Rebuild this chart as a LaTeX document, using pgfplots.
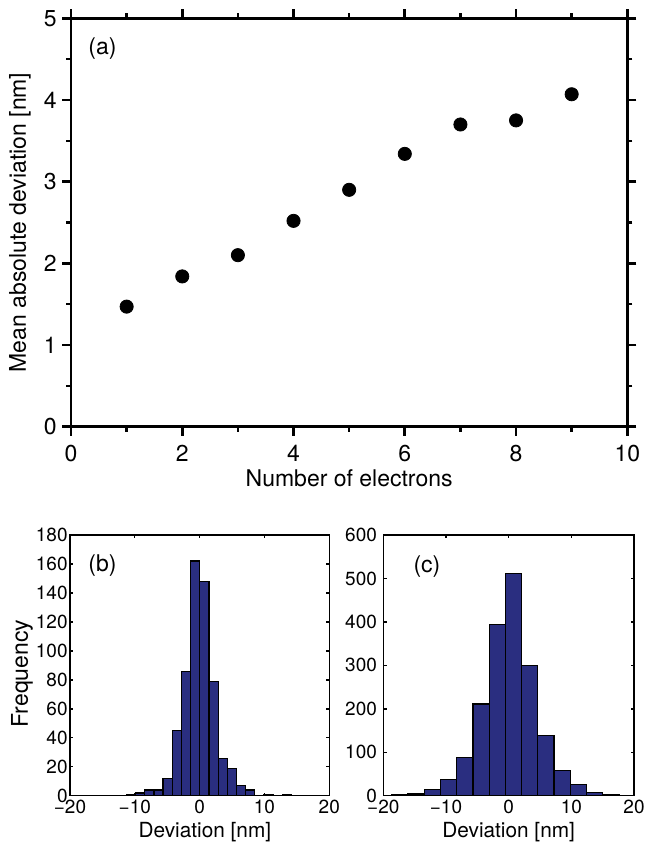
\documentclass[border=0pt]{standalone}
\usepackage{fontspec}
\setmainfont{TeX Gyre Heros}
\usepackage{pgfplots}
\pgfplotsset{compat=1.18}
\definecolor{barblue}{RGB}{42,46,128}
\newcommand{\fa}{\fontsize{11.5}{13}\selectfont}
\newcommand{\fb}{\fontsize{9.5}{11}\selectfont}
\newcommand{\fc}{\fontsize{10.4}{12}\selectfont}
\begin{document}
\begin{tikzpicture}
\useasboundingbox (0,0) rectangle (324pt,422.5pt);
% ---------------- panel (a)
\begin{axis}[
  at={(35.5pt,209.15pt)}, anchor=south west, scale only axis,
  width=278.15pt, height=204.2pt,
  xmin=0, xmax=10, ymin=0, ymax=5,
  xtick={0,2,...,10}, ytick={0,1,...,5},
  minor x tick num=1, minor y tick num=1,
  tick align=outside, major tick length=4.5pt, minor tick length=2.5pt,
  axis line style={line width=1.35pt},
  tick style={line width=1.3pt, black},
  /pgf/number format/assume math mode=true,
  tick label style={font=\fa},
  xticklabel style={inner sep=0pt, anchor=north, yshift=-4.6pt},
  yticklabel style={inner sep=0pt, anchor=east, xshift=-2.5pt},
  xlabel={Number of electrons},
  ylabel={Mean absolute deviation [nm]},
  label style={font=\fa},
  xlabel style={at={(axis description cs:0.5,-0.1476)}, anchor=base},
  ylabel style={at={(axis description cs:-0.0917,0.5)}, anchor=center},
]
\addplot[only marks, mark=*, mark size=3.3pt, black] coordinates {
  (1,1.47) (2,1.84) (3,2.10) (4,2.52) (5,2.90) (6,3.34) (7,3.70) (8,3.75) (9,4.07)
};
\node[font=\fa] at (rel axis cs:0.0566,0.927) {(a)};
\end{axis}
% ---------------- panel (b)
\begin{axis}[
  at={(35pt,24.6pt)}, anchor=south west, scale only axis,
  width=129.65pt, height=130.4pt,
  xmin=-20, xmax=20, ymin=0, ymax=180,
  xtick={-20,-10,...,20}, xticklabels={−20,−10,0,10,20},
  ytick={0,20,...,180},
  tick align=inside, major tick length=1.6pt,
  axis line style={line width=0.65pt},
  tick style={line width=0.65pt, black},
  /pgf/number format/assume math mode=true,
  tick label style={font=\fb},
  xticklabel style={inner sep=0pt, anchor=north, yshift=-2pt},
  yticklabel style={inner sep=0pt, anchor=east, xshift=-1pt},
  xlabel={Deviation [nm]}, ylabel={Frequency},
  xlabel style={font=\fc, at={(axis description cs:0.52,-0.158)}, anchor=base},
  ylabel style={font=\fa, at={(axis description cs:-0.185,0.469)}, anchor=center},
]
\addplot[ybar interval, fill=barblue, draw=black, line width=0.6pt] coordinates {
  (-11.30,1) (-9.885,2) (-8.47,4) (-7.055,4) (-5.64,12) (-4.225,45)
  (-2.81,86) (-1.395,162) (0.02,148) (1.435,79) (2.85,26) (4.265,19)
  (5.68,7) (7.095,4) (8.51,0) (9.925,1) (11.34,0) (12.755,1) (14.17,0)
};
\node[font=\fa] at (rel axis cs:0.125,0.882) {(b)};
\end{axis}
% ---------------- panel (c)
\begin{axis}[
  at={(191.65pt,24.6pt)}, anchor=south west, scale only axis,
  width=125.35pt, height=130.4pt,
  xmin=-20, xmax=20, ymin=0, ymax=600,
  xtick={-20,-10,...,20}, xticklabels={−20,−10,0,10,20},
  ytick={0,100,...,600},
  tick align=inside, major tick length=1.6pt,
  axis line style={line width=0.65pt},
  tick style={line width=0.65pt, black},
  /pgf/number format/assume math mode=true,
  tick label style={font=\fb},
  xticklabel style={inner sep=0pt, anchor=north, yshift=-2pt},
  yticklabel style={inner sep=0pt, anchor=east, xshift=-3pt},
  xlabel={Deviation [nm]},
  xlabel style={font=\fc, at={(axis description cs:0.5,-0.158)}, anchor=base},
]
\addplot[ybar interval, fill=barblue, draw=black, line width=0.6pt] coordinates {
  (-18.65,2) (-16.06,4) (-13.47,14) (-10.88,37) (-8.29,88) (-5.70,211)
  (-3.11,395) (-0.52,512) (2.07,299) (4.66,138) (7.25,59) (9.84,26)
  (12.43,7) (15.02,3) (17.61,1) (20.20,0)
};
\node[font=\fa] at (rel axis cs:0.174,0.878) {(c)};
\end{axis}
\end{tikzpicture}
\end{document}
